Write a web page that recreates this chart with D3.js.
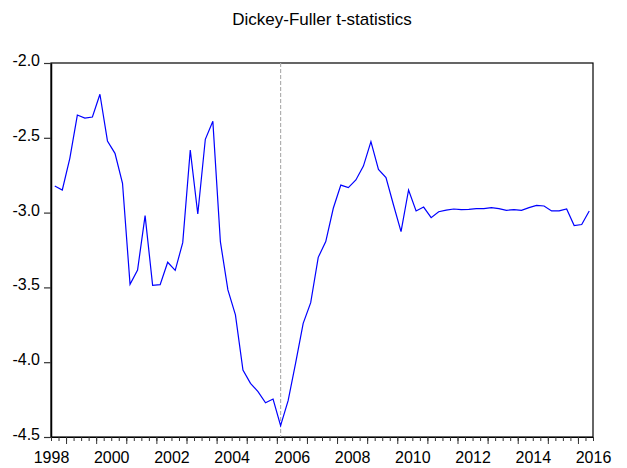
<!DOCTYPE html>
<html>
<head>
<meta charset="utf-8">
<script src="https://cdn.jsdelivr.net/npm/d3@7"></script>
<style>
  body { margin: 0; background: #fff; }
  svg { display: block; font-family: "Liberation Sans", Arial, sans-serif; }
</style>
</head>
<body>
<svg id="chart" width="627" height="468"></svg>
<script>
// quarterly observations, 1998Q1 .. 2015Q4
var startYear = 1998
var breakIndex = 30   // 2005Q3, dashed marker
var tstat = [
  -2.822, -2.849, -2.637, -2.348, -2.368, -2.361, -2.209, -2.521,
  -2.604, -2.804, -3.479, -3.384, -3.020, -3.486, -3.482, -3.332,
  -3.386, -3.201, -2.582, -3.009, -2.510, -2.390, -3.194, -3.517,
  -3.684, -4.052, -4.141, -4.197, -4.271, -4.246, -4.424, -4.257,
  -4.005, -3.740, -3.602, -3.299, -3.194, -2.971, -2.816, -2.833,
  -2.782, -2.689, -2.526, -2.711, -2.766, -2.949, -3.127, -2.849,
  -2.989, -2.963, -3.034, -2.994, -2.983, -2.976, -2.980, -2.978,
  -2.974, -2.974, -2.967, -2.974, -2.985, -2.980, -2.985, -2.967,
  -2.952, -2.956, -2.989, -2.989, -2.976, -3.087, -3.080, -2.989
]
var yTicks = [-2.0, -2.5, -3.0, -3.5, -4.0, -4.5]
var xLabels = [1998, 2000, 2002, 2004, 2006, 2008, 2010, 2012, 2014, 2016]

var svg = d3.select('#chart')
var pLeft = 51, pTop = 63, pRight = 593, pBottom = 437

var x = d3.scaleLinear().domain([1998, 2016]).range([pLeft, pRight])
var y = d3.scaleLinear().domain([-4.5, -2.0]).range([pBottom, pTop])

// observation time = middle of the quarter
function tq(i) { return startYear + 0.125 + i * 0.25 }

svg.append('text')
    .attr('x', 322).attr('y', 25)
    .attr('text-anchor', 'middle')
    .style('font-size', '17px')
    .text('Dickey-Fuller t-statistics')

// frame
svg.append('rect')
    .attr('x', pLeft).attr('y', pTop)
    .attr('width', pRight - pLeft).attr('height', pBottom - pTop)
    .attr('fill', 'none').attr('stroke', '#000').attr('stroke-width', 1.2)

// y axis
var yAxis = d3.axisLeft(y).tickValues(yTicks).tickSize(7).tickSizeOuter(0)
    .tickFormat(function(d) { return d3.format('.1f')(d).replace('\u2212', '-') })
var gy = svg.append('g').attr('transform', 'translate(' + pLeft + ',0)').call(yAxis)
gy.select('.domain').attr('stroke-width', 1.5)
gy.selectAll('.tick line').attr('stroke', '#333').attr('stroke-width', 1.2)
gy.selectAll('text').style('font-size', '16px').attr('fill', '#000').attr('x', -11).attr('dy', '0.15em')

// x axis: quarter ticks, mid-year longer ticks, labels on even years
var quarterTicks = d3.range(0, 73).map(function(i) { return startYear + i * 0.25 })
var midTicks = d3.range(0, 18).map(function(i) { return startYear + i + 0.5 })
var gx = svg.append('g').attr('transform', 'translate(0,' + pBottom + ')')
gx.call(d3.axisBottom(x).tickValues(quarterTicks).tickSize(4).tickFormat('').tickSizeOuter(0))
gx.select('.domain').attr('stroke-width', 1.2)
gx.selectAll('.tick line').attr('stroke', '#333')
var gx2 = svg.append('g').attr('transform', 'translate(0,' + pBottom + ')')
gx2.call(d3.axisBottom(x).tickValues(midTicks).tickSize(7).tickFormat(''))
gx2.select('.domain').remove()
gx2.selectAll('.tick line').attr('stroke', '#333')
var gx3 = svg.append('g').attr('transform', 'translate(0,' + pBottom + ')')
gx3.call(d3.axisBottom(x).tickValues(xLabels).tickSize(0).tickFormat(d3.format('d')))
gx3.select('.domain').remove()
gx3.selectAll('text').style('font-size', '16px').attr('fill', '#000').attr('y', 15).attr('dy', '0.71em')

// dashed marker at the minimum
svg.append('line')
    .attr('x1', x(tq(breakIndex))).attr('x2', x(tq(breakIndex)))
    .attr('y1', pTop).attr('y2', pBottom)
    .attr('stroke', '#b0b0b0').attr('stroke-width', 1.2)
    .attr('stroke-dasharray', '4,2')

var line = d3.line()
    .x(function(d, i) { return x(tq(i)) })
    .y(function(d) { return y(d) })

svg.append('path')
    .datum(tstat)
    .attr('d', line)
    .attr('fill', 'none')
    .attr('stroke', '#0000ff')
    .attr('stroke-width', 1.2)
</script>
</body>
</html>
